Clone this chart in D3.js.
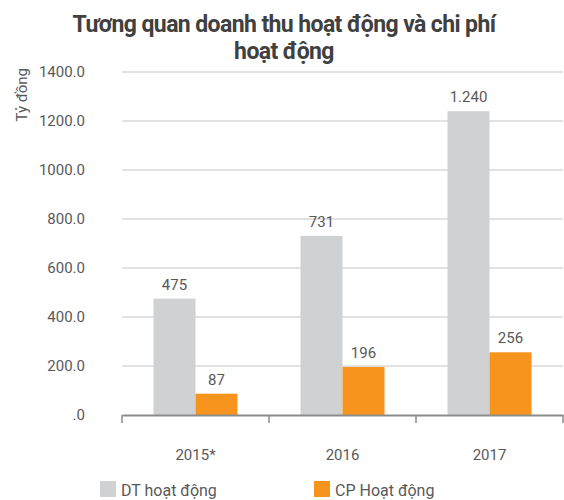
<!DOCTYPE html>
<html>
<head>
<meta charset="utf-8">
<script src="https://cdn.jsdelivr.net/npm/d3@7"></script>
<style>
  html, body { margin: 0; padding: 0; background: #fff; }
  svg { display: block; font-family: Roboto, "Noto Sans", sans-serif; }
</style>
</head>
<body>
<svg id="chart" width="564" height="500"></svg>
<script>
// Operating revenue vs. operating cost, billion VND
const years = ["2015*", "2016", "2017"];
const seriesNames = ["DT hoạt động", "CP Hoạt động"];
const revenue = [475, 731, 1240];
const cost = [87, 196, 256];
const revenueLabels = ["475", "731", "1.240"];
const costLabels = ["87", "196", "256"];
const yTicks = [0, 200, 400, 600, 800, 1000, 1200, 1400];
const colors = ["#d0d1d3", "#f7941d"];

const rows = years.map((y, i) => ({
  year: y,
  values: [
    { key: seriesNames[0], value: revenue[i], label: revenueLabels[i] },
    { key: seriesNames[1], value: cost[i], label: costLabels[i] }
  ]
}));

const svg = d3.select("#chart");
const margin = { left: 122, right: 1, top: 72, bottom: 85 };
const W = 564, H = 500;
const plotBottom = 415;

const x = d3.scaleBand().domain(years).range([margin.left, W - margin.right]).padding(0);
const xInner = d3.scaleBand().domain(seriesNames).range([0, x.bandwidth()])
  .paddingInner(0).paddingOuter(0.75);
const y = d3.scaleLinear().domain([0, 1400]).range([plotBottom, margin.top]);
const color = d3.scaleOrdinal().domain(seriesNames).range(colors);

const textColor = "#595959";

// Title
const title = svg.append("text")
  .attr("text-anchor", "middle")
  .attr("font-size", 23).attr("font-weight", "bold").attr("fill", "#404040")
  .attr("letter-spacing", -0.6);
title.append("tspan").attr("x", 284).attr("y", 32).text("Tương quan doanh thu hoạt động và chi phí");
title.append("tspan").attr("x", 284).attr("y", 59).text("hoạt động");

// Horizontal gridlines
svg.append("g")
  .selectAll("line")
  .data(yTicks.filter(d => d > 0))
  .join("line")
  .attr("x1", margin.left).attr("x2", W - margin.right)
  .attr("y1", d => y(d)).attr("y2", d => y(d))
  .attr("stroke", "#d9d9d9").attr("stroke-width", 1.5);

// Y axis labels
const yAxis = d3.axisLeft(y).tickValues(yTicks).tickSize(0)
  .tickFormat(d => d === 0 ? ".0" : d3.format(".1f")(d));
const gy = svg.append("g").attr("transform", "translate(88,0)").call(yAxis);
gy.select(".domain").remove();
gy.selectAll("text").attr("font-size", 15).attr("fill", textColor)
  .attr("font-family", "Roboto, sans-serif").attr("dx", 0);

// Y axis title
svg.append("text")
  .attr("transform", "translate(27,68) rotate(-90)")
  .attr("text-anchor", "end")
  .attr("font-size", 15).attr("fill", textColor)
  .text("Tỷ đồng");

// Bars
const groups = svg.append("g").selectAll("g")
  .data(rows).join("g")
  .attr("transform", d => `translate(${x(d.year)},0)`);

groups.selectAll("rect")
  .data(d => d.values).join("rect")
  .attr("x", d => xInner(d.key))
  .attr("width", xInner.bandwidth())
  .attr("y", d => y(d.value))
  .attr("height", d => y(0) - y(d.value))
  .attr("fill", d => color(d.key));

groups.selectAll("text.val")
  .data(d => d.values).join("text")
  .attr("class", "val")
  .attr("x", d => xInner(d.key) + xInner.bandwidth() / 2)
  .attr("y", d => y(d.value) - 9)
  .attr("text-anchor", "middle")
  .attr("font-size", 15).attr("fill", textColor)
  .text(d => d.label);

// X axis
const xAxis = d3.axisBottom(x).tickSize(0).tickSizeOuter(0);
const gx = svg.append("g").attr("transform", `translate(0,${plotBottom})`).call(xAxis);
gx.select(".domain").attr("stroke", "#8c8c8c").attr("stroke-width", 2);
gx.selectAll("text").attr("font-size", 15).attr("fill", textColor)
  .attr("font-family", "Roboto, sans-serif").attr("dy", 0).attr("y", 45);

// Category separators below the axis line
const boundaries = years.map(d => x(d)).concat([x(years[years.length - 1]) + x.bandwidth()]);
svg.append("g").selectAll("line")
  .data(boundaries).join("line")
  .attr("x1", d => d).attr("x2", d => d)
  .attr("y1", plotBottom).attr("y2", plotBottom + 8)
  .attr("stroke", "#8c8c8c").attr("stroke-width", 1.5);

// Legend
const legendX = [100, 314];
const legend = svg.append("g").selectAll("g")
  .data(seriesNames).join("g")
  .attr("transform", (d, i) => `translate(${legendX[i]},481)`);
legend.append("rect").attr("width", 16).attr("height", 16).attr("fill", d => color(d));
legend.append("text").attr("x", 21).attr("y", 15)
  .attr("font-size", 16).attr("fill", textColor).text(d => d);
</script>
</body>
</html>
